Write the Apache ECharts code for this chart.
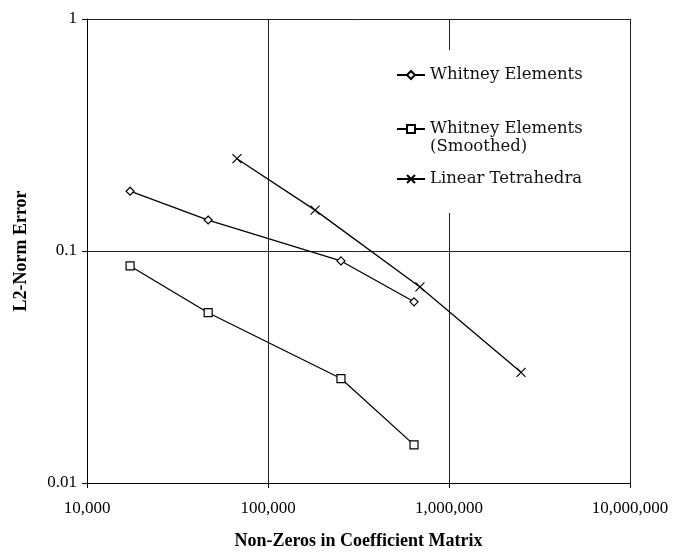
<!DOCTYPE html>
<html><head><meta charset="utf-8">
<script src="https://cdn.jsdelivr.net/npm/echarts@6/dist/echarts.min.js"></script>
<style>html,body{margin:0;padding:0;background:#fff}#c{width:676px;height:555px}</style>
</head><body><div id="c"></div>
<script>
const seriesNames = ['Whitney Elements', 'Whitney Elements (Smoothed)', 'Linear Tetrahedra'];
const whitneyX = [17300, 46700, 253000, 641000];
const whitneyY = [0.181, 0.136, 0.0906, 0.0604];
const smoothX = [17300, 46700, 253000, 641000];
const smoothY = [0.0862, 0.0542, 0.0282, 0.0146];
const tetraX = [67400, 182000, 691000, 2500000];
const tetraY = [0.25, 0.15, 0.07, 0.03];
const xTicks = [10000, 100000, 1000000, 10000000];
const yTicks = [0.01, 0.1, 1];

const font = '"Liberation Serif", "DejaVu Serif", serif';
const legendFont = '"DejaVu Serif", "Liberation Serif", serif';
const crossPath = 'path://M0,0L10,10M10,0L0,10';
const pair = (xs, ys) => xs.map((x, i) => [x, ys[i]]);

const chart = echarts.init(document.getElementById('c'), null, {renderer: 'canvas'});
const lineStyle = {color: '#000', width: 1.3};
const mk = (name, xs, ys, symbol, size, fill) => ({
  name, type: 'line', data: pair(xs, ys), symbol, symbolSize: size,
  showSymbol: true, lineStyle,
  itemStyle: {color: fill, borderColor: '#000', borderWidth: 1.2},
  z: 5
});
const legendText = {fontFamily: legendFont, fontSize: 16.5, color: '#111', lineHeight: 18};
const legendBase = {orient: 'vertical', left: 396, itemWidth: 28, itemHeight: 10, itemGap: 0,
  textStyle: legendText, selectedMode: false, padding: 0};
chart.setOption({
  animation: false,
  backgroundColor: '#fff',
  grid: {left: 87, right: 46, top: 19, bottom: 70},
  graphic: [{type: 'rect', shape: {x: 388, y: 50, width: 238, height: 163},
    style: {fill: '#fff'}, z: 3}],
  legend: [
    Object.assign({}, legendBase, {top: 66, data: [seriesNames[0]]}),
    Object.assign({}, legendBase, {top: 102, data: [seriesNames[1]],
      formatter: () => '\u00a0\nWhitney Elements\n(Smoothed)'}),
    Object.assign({}, legendBase, {top: 170, data: [seriesNames[2]]})
  ],
  xAxis: {
    type: 'log', logBase: 10, min: xTicks[0], max: xTicks[xTicks.length - 1],
    name: 'Non-Zeros in Coefficient Matrix', nameLocation: 'middle', nameGap: 49,
    nameTextStyle: {fontFamily: font, fontSize: 18, color: '#000', fontWeight: 'bold'},
    axisLine: {lineStyle: {color: '#000', width: 1}},
    axisTick: {show: true, length: 5, lineStyle: {color: '#000'}},
    minorTick: {show: false},
    axisLabel: {fontFamily: font, fontSize: 17, color: '#000', margin: 17,
      formatter: v => Math.round(v).toLocaleString('en-US')},
    splitLine: {show: true, lineStyle: {color: '#222', width: 1}}
  },
  yAxis: {
    type: 'log', logBase: 10, min: yTicks[0], max: yTicks[yTicks.length - 1],
    name: 'L2-Norm Error', nameLocation: 'middle', nameGap: 57,
    nameTextStyle: {fontFamily: font, fontSize: 18, color: '#000', fontWeight: 'bold'},
    axisLine: {lineStyle: {color: '#000', width: 1}},
    axisTick: {show: true, length: 5, lineStyle: {color: '#000'}},
    axisLabel: {fontFamily: font, fontSize: 17, color: '#000', margin: 10,
      formatter: v => String(Number(v.toPrecision(1)))},
    splitLine: {show: true, lineStyle: {color: '#222', width: 1}}
  },
  series: [
    mk(seriesNames[0], whitneyX, whitneyY, 'diamond', 8, '#fff'),
    mk(seriesNames[1], smoothX, smoothY, 'rect', 8, '#fff'),
    mk(seriesNames[2], tetraX, tetraY, crossPath, 9, 'none')
  ]
});
</script></body></html>
